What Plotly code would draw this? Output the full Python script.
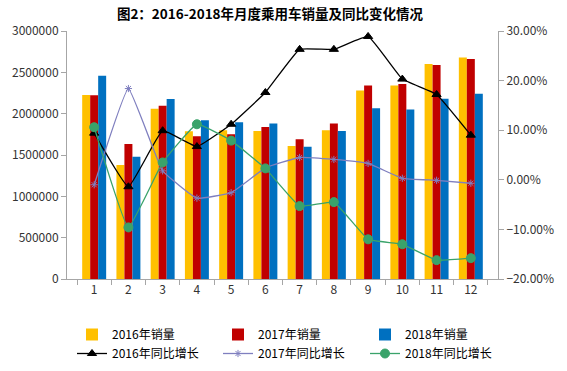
import plotly.graph_objects as go

months = ["1", "2", "3", "4", "5", "6", "7", "8", "9", "10", "11", "12"]
sales_2016 = [2226000, 1379000, 2060000, 1787000, 1800000, 1790000, 1610000, 1800000, 2280000, 2340000, 2600000, 2680000]
sales_2017 = [2222000, 1633000, 2097000, 1726000, 1750000, 1840000, 1690000, 1880000, 2340000, 2360000, 2590000, 2660000]
sales_2018 = [2460000, 1480000, 2177000, 1920000, 1895000, 1880000, 1600000, 1790000, 2065000, 2050000, 2180000, 2240000]
yoy_2016 = [9.4, -1.4, 9.9, 6.7, 11.2, 17.6, 26.3, 26.3, 28.9, 20.3, 17.2, 9.0]
yoy_2017 = [-1.0, 18.4, 1.8, -3.7, -2.6, 2.4, 4.5, 4.1, 3.3, 0.3, -0.1, -0.7]
yoy_2018 = [10.6, -9.6, 3.5, 11.2, 7.9, 2.3, -5.3, -4.5, -12.0, -13.0, -16.2, -15.8]

CJK = "Noto Sans CJK SC"
fig = go.Figure()

bar_specs = [("2016年销量", sales_2016, "#FFC000", "legend"),
             ("2017年销量", sales_2017, "#C00000", "legend2"),
             ("2018年销量", sales_2018, "#0070C0", "legend3")]
for name, vals, col, leg in bar_specs:
    fig.add_trace(go.Bar(x=months, y=vals, name=name,
                         marker=dict(color=col, line=dict(width=0)),
                         legend=leg))

line_specs = [("2016年同比增长", yoy_2016, "#000000", "triangle-up", 8, "legend"),
              ("2017年同比增长", yoy_2017, "#7F7FBF", "asterisk-open", 6, "legend2"),
              ("2018年同比增长", yoy_2018, "#3AA36A", "circle", 9, "legend3")]
for name, vals, col, sym, sz, leg in line_specs:
    fig.add_trace(go.Scatter(x=months, y=[v / 100 for v in vals], name=name,
                             mode="lines+markers", yaxis="y2",
                             line=dict(color=col, width=1.3, shape="spline", smoothing=0.3),
                             marker=dict(symbol=sym, size=sz, color=col,
                                         line=dict(color=col, width=1)),
                             legend=leg))

axis_col = "#A6A6A6"
tick_font = dict(family=CJK, size=12, color="#333333")
leg_font = dict(family=CJK, size=12, color="#000000")

PL, PR, PT, PB = 67, 498, 31, 279


def leg(xpix):
    return dict(orientation="v", xref="paper", yref="paper",
                x=(xpix - PL) / (PR - PL), xanchor="left",
                y=(PB - 320) / (PB - PT), yanchor="top",
                traceorder="normal", font=leg_font, bgcolor="rgba(0,0,0,0)",
                borderwidth=0, tracegroupgap=0)


fig.update_layout(
    width=567, height=371,
    margin=dict(l=PL, r=567 - PR, t=PT, b=371 - PB, autoexpand=False),
    paper_bgcolor="white", plot_bgcolor="white",
    barmode="group", bargap=0.30, bargroupgap=0,
    title=dict(text="<b>图2：2016-2018年月度乘用车销量及同比变化情况</b>",
               x=270 / 567, xanchor="center", xref="container",
               y=1 - 14 / 371, yanchor="middle", yref="container",
               font=dict(family=CJK, size=13.5, color="#000000")),
    xaxis=dict(type="category", showgrid=False, showline=True, linecolor=axis_col,
               linewidth=1, ticks="outside", tickson="boundaries", ticklen=5,
               tickcolor=axis_col, automargin=False,
               tickfont=dict(family=CJK, size=12, color="#333333")),
    yaxis=dict(range=[0, 3000000], dtick=500000, showgrid=False, showline=True,
               linecolor=axis_col, ticks="outside", ticklen=5, tickcolor=axis_col,
               tickformat="d", tickfont=tick_font, zeroline=False, automargin=False),
    yaxis2=dict(range=[-0.2, 0.3], dtick=0.1, overlaying="y", side="right",
                showgrid=False, showline=True, linecolor=axis_col, ticks="outside",
                ticklen=5, tickcolor=axis_col, tickformat=".2%", tickfont=tick_font,
                zeroline=False, automargin=False),
    legend=leg(72),
    legend2=leg(218),
    legend3=leg(365),
)

fig.write_html("out.html",
               config={"displayModeBar": False},
               post_script="document.body.style.margin='0';"
                           "document.documentElement.style.overflow='hidden';")
